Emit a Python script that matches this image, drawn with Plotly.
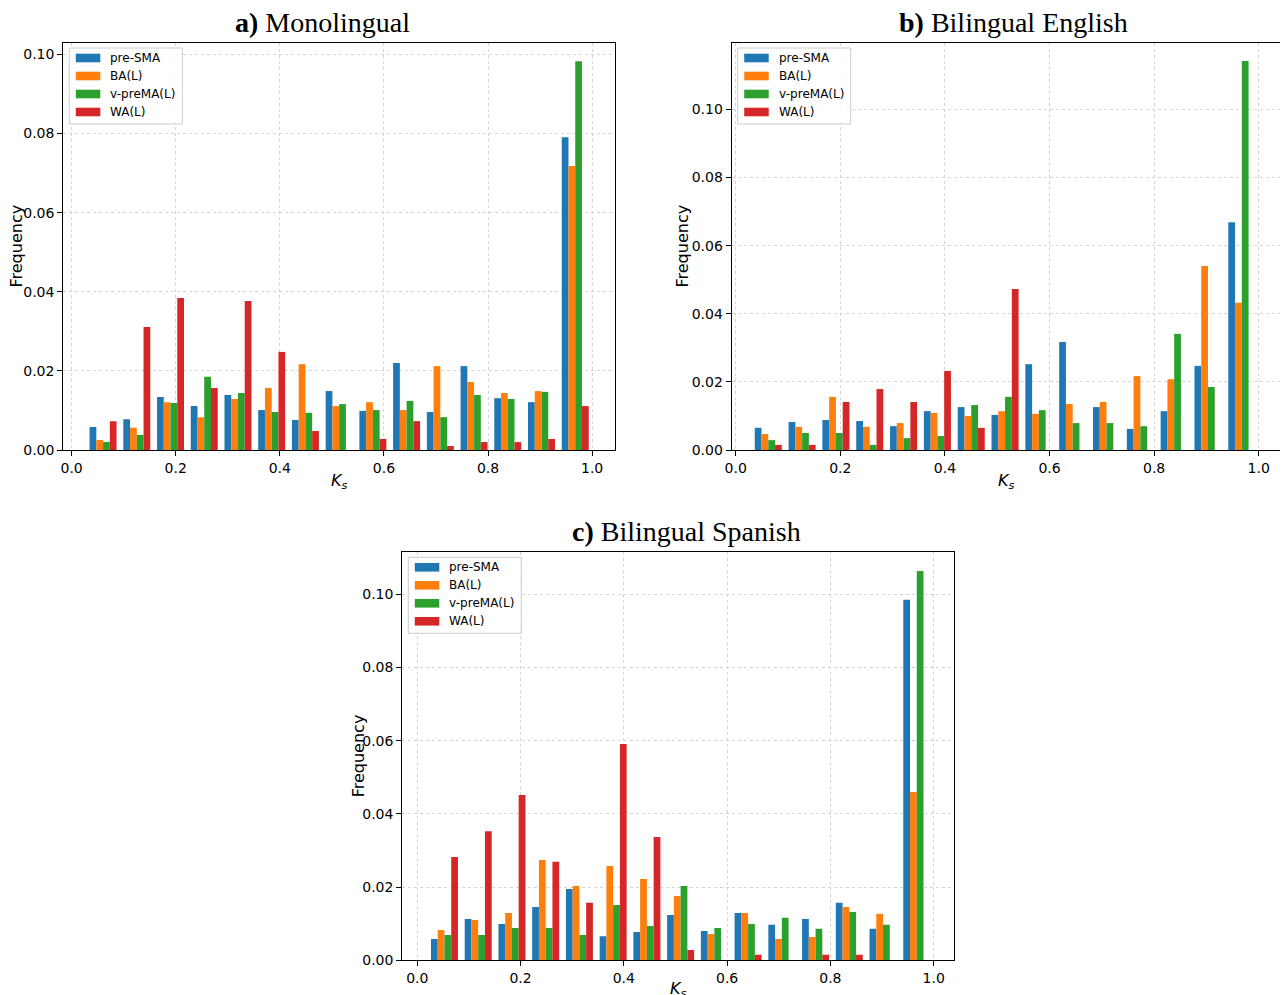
import plotly.graph_objects as go

W, H = 1288, 995
OFF = 8  # page body margin of the browser; the figure div starts at (8, 8)

series_names = ["pre-SMA", "BA(L)", "v-preMA(L)", "WA(L)"]
series_colors = ["#1f77b4", "#ff7f0e", "#2ca02c", "#d62728"]

# ---- data: histogram frequencies (15 bins per panel) ----
a_bin_range = (0.028, 1.0)
a_pre_sma = [0.0058, 0.0078, 0.0134, 0.0111, 0.0139, 0.0101, 0.0076, 0.0149, 0.0099, 0.0220, 0.0096, 0.0212, 0.0131, 0.0121, 0.0791]
a_ba = [0.0025, 0.0056, 0.0121, 0.0083, 0.0129, 0.0157, 0.0217, 0.0111, 0.0121, 0.0101, 0.0212, 0.0172, 0.0144, 0.0149, 0.0718]
a_vpre = [0.0020, 0.0038, 0.0119, 0.0185, 0.0144, 0.0096, 0.0094, 0.0116, 0.0101, 0.0124, 0.0083, 0.0139, 0.0129, 0.0147, 0.0983]
a_wa = [0.0073, 0.0311, 0.0384, 0.0157, 0.0377, 0.0248, 0.0048, 0.0, 0.0028, 0.0073, 0.0010, 0.0020, 0.0020, 0.0028, 0.0111]

b_bin_range = (0.030, 1.0)
b_pre_sma = [0.0065, 0.0082, 0.0088, 0.0085, 0.0070, 0.0114, 0.0126, 0.0103, 0.0252, 0.0317, 0.0126, 0.0062, 0.0114, 0.0247, 0.0669]
b_ba = [0.0047, 0.0068, 0.0156, 0.0068, 0.0079, 0.0109, 0.0100, 0.0114, 0.0106, 0.0135, 0.0141, 0.0217, 0.0208, 0.0540, 0.0432]
b_vpre = [0.0029, 0.0050, 0.0050, 0.0015, 0.0035, 0.0041, 0.0132, 0.0156, 0.0117, 0.0079, 0.0079, 0.0070, 0.0341, 0.0185, 0.1142]
b_wa = [0.0015, 0.0015, 0.0141, 0.0179, 0.0141, 0.0232, 0.0065, 0.0473, 0.0, 0.0, 0.0, 0.0, 0.0, 0.0, 0.0]

c_bin_range = (0.020, 1.0)
c_pre_sma = [0.0058, 0.0113, 0.0099, 0.0146, 0.0195, 0.0066, 0.0077, 0.0124, 0.0080, 0.0129, 0.0097, 0.0113, 0.0157, 0.0086, 0.0985]
c_ba = [0.0083, 0.0110, 0.0129, 0.0274, 0.0203, 0.0258, 0.0222, 0.0176, 0.0072, 0.0129, 0.0058, 0.0064, 0.0146, 0.0127, 0.0460]
c_vpre = [0.0069, 0.0069, 0.0088, 0.0088, 0.0069, 0.0151, 0.0094, 0.0203, 0.0088, 0.0099, 0.0116, 0.0086, 0.0132, 0.0097, 0.1064]
c_wa = [0.0282, 0.0353, 0.0452, 0.0269, 0.0157, 0.0591, 0.0337, 0.0028, 0.0, 0.0015, 0.0, 0.0015, 0.0015, 0.0, 0.0]

x_tick_vals = [0.0, 0.2, 0.4, 0.6, 0.8, 1.0]
x_tick_text = ["0.0", "0.2", "0.4", "0.6", "0.8", "1.0"]
y_tick_vals = [0.0, 0.02, 0.04, 0.06, 0.08, 0.10]
y_tick_text = ["0.00", "0.02", "0.04", "0.06", "0.08", "0.10"]


def fx(px):
    return (px - OFF) / W


def fy(py):
    return 1 - (py - OFF) / H


panels = [
    dict(key="a", title="<b>a)</b> Monolingual", bins=a_bin_range,
         data=[a_pre_sma, a_ba, a_vpre, a_wa],
         px=(63.3, 615.0), py=(43.0, 450.0), xr=(-0.016, 1.044), yr=(0, 0.1029),
         title_cx=322, title_cy=22, ylab_x=16, xlab_top=469),
    dict(key="b", title="<b>b)</b> Bilingual English", bins=b_bin_range,
         data=[b_pre_sma, b_ba, b_vpre, b_wa],
         px=(731.7, 1280.7), py=(43.0, 450.0), xr=(-0.0076, 1.042), yr=(0, 0.1195),
         title_cx=1014, title_cy=22, ylab_x=682, xlab_top=469),
    dict(key="c", title="<b>c)</b> Bilingual Spanish", bins=c_bin_range,
         data=[c_pre_sma, c_ba, c_vpre, c_wa],
         px=(402.3, 954.3), py=(552.3, 960.3), xr=(-0.029, 1.040), yr=(0, 0.1115),
         title_cx=686, title_cy=531, ylab_x=358, xlab_top=977),
]

fig = go.Figure()
layout = dict(width=W, height=H, margin=dict(l=0, r=0, t=0, b=0, autoexpand=False),
              paper_bgcolor="white", plot_bgcolor="white", showlegend=False,
              barmode="overlay")
shapes = []
annotations = []

tick_font = dict(family="DejaVu Sans", size=14, color="black")

for i, p in enumerate(panels):
    n = i + 1
    xa = "x" if n == 1 else f"x{n}"
    ya = "y" if n == 1 else f"y{n}"
    xkey = "xaxis" if n == 1 else f"xaxis{n}"
    ykey = "yaxis" if n == 1 else f"yaxis{n}"
    lo, hi = p["bins"]
    nb = len(p["data"][0])
    bw = (hi - lo) / nb
    centers = [lo + bw * (k + 0.5) for k in range(nb)]
    bar_w = 0.8 * bw / len(p["data"])
    for s, vals in enumerate(p["data"]):
        fig.add_trace(go.Bar(
            x=centers, y=vals, name=series_names[s], xaxis=xa, yaxis=ya,
            width=[bar_w] * nb, offset=[-0.4 * bw + s * bar_w] * nb,
            marker=dict(color=series_colors[s], line=dict(width=0)),
        ))
    common = dict(showline=True, mirror=True, linecolor="black", linewidth=1.1,
                  ticks="outside", ticklen=5, tickwidth=1.1, tickcolor="black",
                  showgrid=True, gridcolor="#d4d4d4", griddash="dot", gridwidth=0.8,
                  zeroline=False, tickfont=tick_font, layer="above traces",
                  automargin=False)
    layout[xkey] = dict(domain=[fx(p["px"][0]), fx(p["px"][1])], range=list(p["xr"]), anchor=ya,
                        tickvals=x_tick_vals, ticktext=x_tick_text, **common)
    layout[ykey] = dict(domain=[fy(p["py"][1]), fy(p["py"][0])], range=list(p["yr"]), anchor=xa,
                        tickvals=y_tick_vals, ticktext=y_tick_text, **common)

    # title
    annotations.append(dict(text=p["title"], x=fx(p["title_cx"]), y=fy(p["title_cy"]),
                            xref="paper", yref="paper", showarrow=False,
                            xanchor="center", yanchor="middle",
                            font=dict(family="Liberation Serif", size=28, color="black")))
    # y label
    annotations.append(dict(text="Frequency", x=fx(p["ylab_x"]),
                            y=fy((p["py"][0] + p["py"][1]) / 2),
                            xref="paper", yref="paper", showarrow=False, textangle=-90,
                            xanchor="center", yanchor="middle",
                            font=dict(family="DejaVu Sans", size=16, color="black")))
    # x label
    annotations.append(dict(text="<i>K</i><sub><i>s</i></sub>",
                            x=fx((p["px"][0] + p["px"][1]) / 2), y=fy(p["xlab_top"]),
                            xref="paper", yref="paper", showarrow=False,
                            xanchor="center", yanchor="top",
                            font=dict(family="DejaVu Sans", size=16, color="black")))

    # legend (upper left, matplotlib style)
    bx0 = p["px"][0] + 6
    by0 = p["py"][0] + 5
    bwid, bht = 113, 76
    shapes.append(dict(type="rect", xref="paper", yref="paper",
                       x0=fx(bx0), x1=fx(bx0 + bwid),
                       y0=fy(by0), y1=fy(by0 + bht),
                       line=dict(color="#cccccc", width=1),
                       fillcolor="rgba(255,255,255,0.8)", layer="above"))
    for s in range(len(series_names)):
        cy = by0 + 10 + 18 * s
        shapes.append(dict(type="rect", xref="paper", yref="paper",
                           x0=fx(bx0 + 6.5), x1=fx(bx0 + 31),
                           y0=fy(cy - 4.3), y1=fy(cy + 4.3),
                           line=dict(width=0), fillcolor=series_colors[s], layer="above"))
        annotations.append(dict(text=series_names[s], x=fx(bx0 + 39), y=fy(cy),
                                xref="paper", yref="paper", showarrow=False,
                                xanchor="left", yanchor="middle",
                                font=dict(family="DejaVu Sans", size=12, color="black")))

layout["shapes"] = shapes
layout["annotations"] = annotations
fig.update_layout(**layout)
fig.write_html("out.html")
